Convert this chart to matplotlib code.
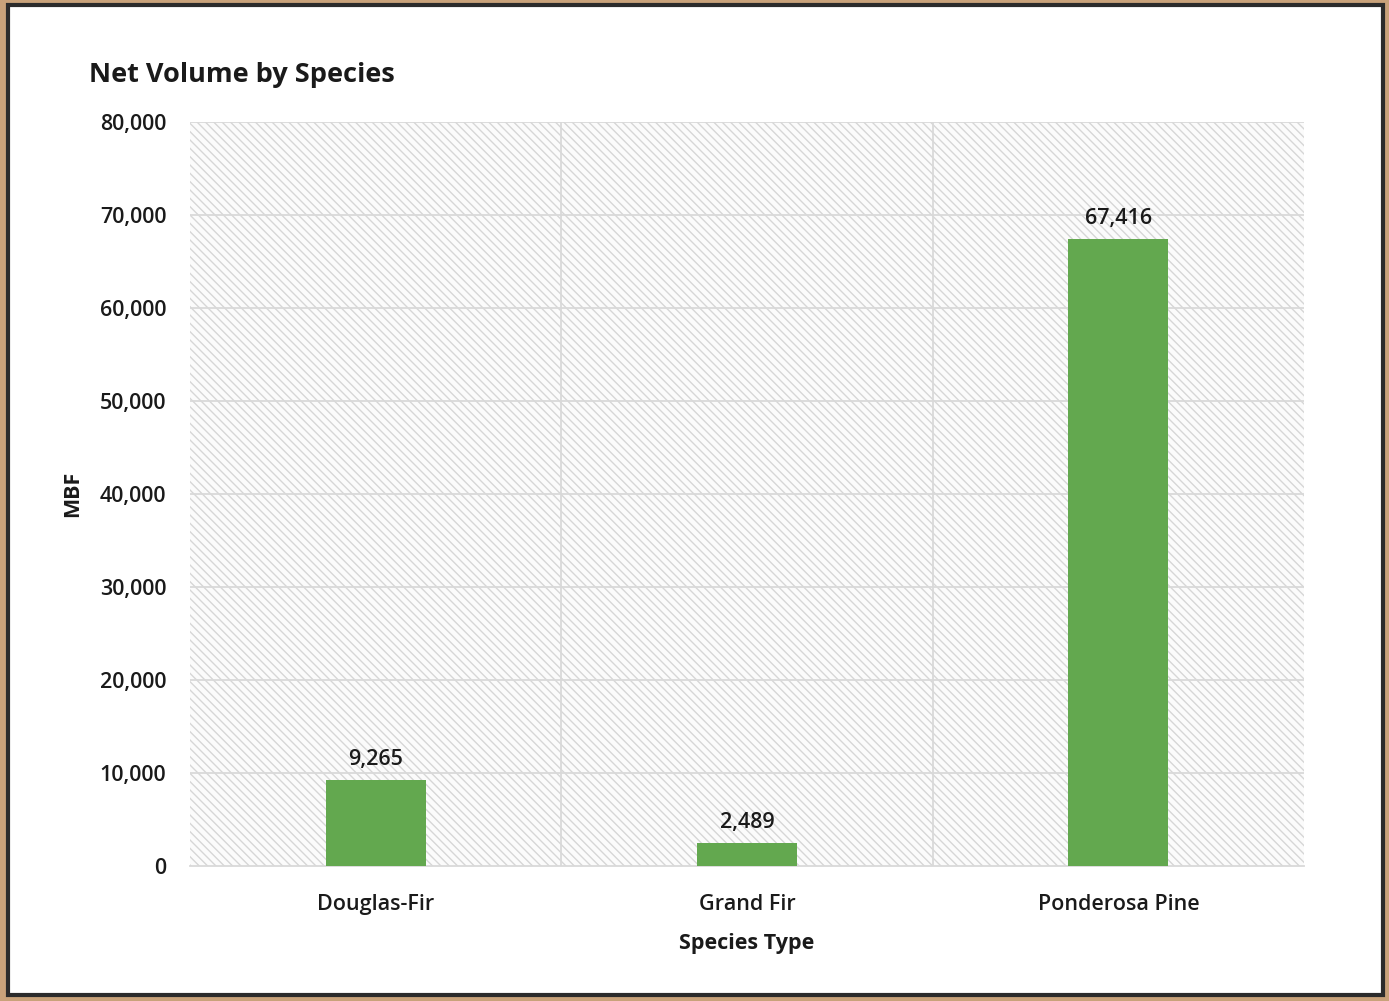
import matplotlib
matplotlib.use("Agg")
import matplotlib.pyplot as plt
from matplotlib.patches import Rectangle
from matplotlib.ticker import FuncFormatter, MultipleLocator

categories = ["Douglas-Fir", "Grand Fir", "Ponderosa Pine"]
values = [9265, 2489, 67416]
title = "Net Volume by Species"
xlabel = "Species Type"
ylabel = "MBF"

plt.rcParams['font.family'] = ['Open Sans', 'DejaVu Sans']
plt.rcParams['hatch.linewidth'] = 1.0

TXT = '#1a1a1a'
FS = 15.5

fig = plt.figure(figsize=(13.89, 10.01), dpi=100)
fig.patch.set_facecolor('#c9a27a')
# white page with dark border
fig.patches.append(Rectangle((8/1389, 6/1001), 1375/1389, 990/1001, transform=fig.transFigure,
                             facecolor='white', edgecolor='#2b2b2b', linewidth=3.0, zorder=-5))

ax = fig.add_axes([190/1389, 1 - 866/1001, 1114/1389, 744/1001], zorder=2)
ax.set_facecolor('#fbfbfb')
ax.add_patch(Rectangle((0, 0), 1, 1, transform=ax.transAxes, facecolor='none',
                       edgecolor='#d6d6d6', linewidth=0, hatch='\\\\\\\\', zorder=0))
x = list(range(len(categories)))
bars = ax.bar(x, values, width=0.27, color='#63a84f', zorder=3)
ax.set_xlim(-0.5, len(categories) - 0.5)
ax.set_ylim(0, 80000)
ax.yaxis.set_major_locator(MultipleLocator(10000))
ax.yaxis.set_major_formatter(FuncFormatter(lambda v, p: f"{int(v):,}"))
ax.set_xticks(x)
ax.set_xticklabels(categories)
ax.tick_params(axis='both', length=0, labelsize=FS, colors=TXT)
for lab in ax.get_xticklabels() + ax.get_yticklabels():
    lab.set_fontweight('semibold')
ax.tick_params(axis='y', pad=17)
ax.tick_params(axis='x', pad=20)
for yv in range(10000, 80001, 10000):
    ax.axhline(yv, color='#d9d9d9', linewidth=1.3, zorder=1)
for xv in [0.5, 1.5]:
    ax.axvline(xv, color='#d9d9d9', linewidth=1.3, zorder=1)
for s in ['top', 'right', 'left']:
    ax.spines[s].set_visible(False)
ax.spines['bottom'].set_color('#d9d9d9')
ax.spines['bottom'].set_linewidth(1.3)

for b, v in zip(bars, values):
    ax.annotate(f"{v:,}", (b.get_x() + b.get_width() / 2, v), xytext=(0, 7),
                textcoords='offset points', ha='center', va='bottom', fontsize=FS,
                fontweight='semibold', color=TXT)

ax.set_xlabel(xlabel, fontsize=FS, fontweight='bold', labelpad=13, color=TXT)
ax.set_ylabel(ylabel, fontsize=FS, fontweight='bold', labelpad=12, color=TXT)
fig.text(89/1389, 1 - 75/1001, title, fontsize=19.5, fontweight='bold', ha='left', va='center', color=TXT)

fig.savefig('out.png', dpi=100, facecolor=fig.get_facecolor())
